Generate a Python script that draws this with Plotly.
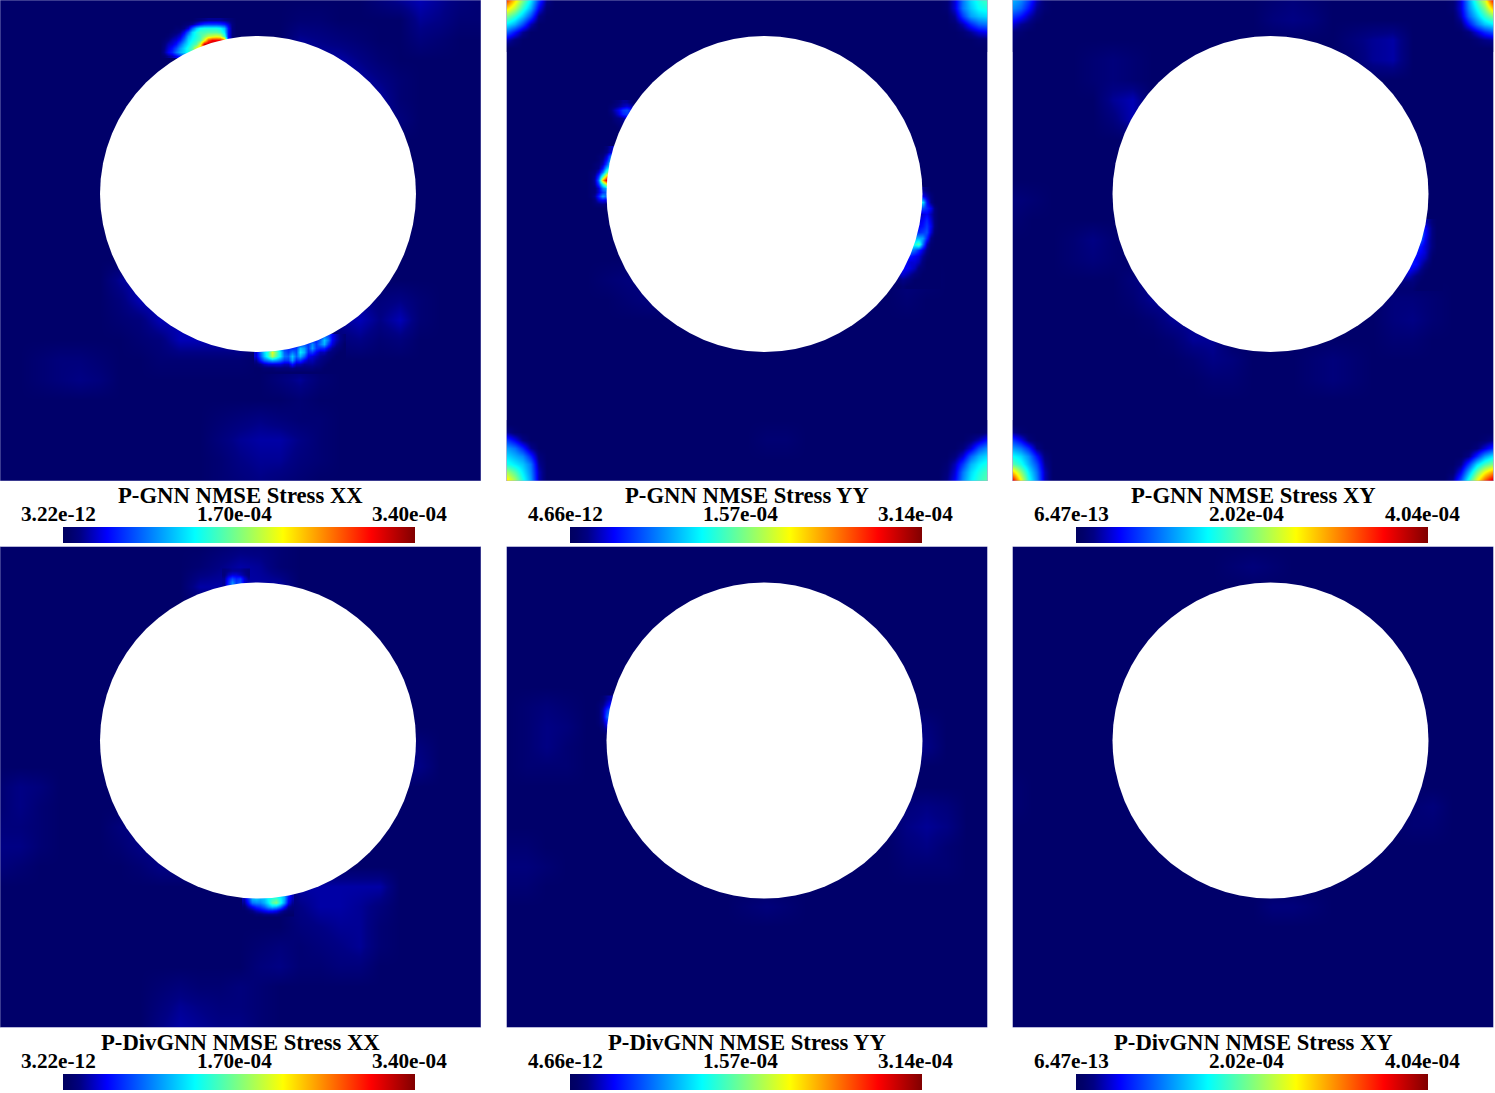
from __future__ import annotations

import numpy as np
import plotly.graph_objects as go


TITLES = [
    "P-GNN NMSE Stress XX", "P-GNN NMSE Stress YY", "P-GNN NMSE Stress XY",
    "P-DivGNN NMSE Stress XX", "P-DivGNN NMSE Stress YY", "P-DivGNN NMSE Stress XY",
]
Z_MAX = [3.40e-04, 3.14e-04, 4.04e-04, 3.40e-04, 3.14e-04, 4.04e-04]
Z_MIN = [3.22e-12, 4.66e-12, 6.47e-13, 3.22e-12, 4.66e-12, 6.47e-13]
LOW_LABELS = ["3.22e-12", "4.66e-12", "6.47e-13", "3.22e-12", "4.66e-12", "6.47e-13"]
MID_LABELS = ["1.70e-04", "1.57e-04", "2.02e-04", "1.70e-04", "1.57e-04", "2.02e-04"]
HIGH_LABELS = ["3.40e-04", "3.14e-04", "4.04e-04", "3.40e-04", "3.14e-04", "4.04e-04"]

# all field values below are percent of the panel's colour range, read by eye
BASE_LEVEL = 2

# broad faint areas on a 20 unit grid: (x0, y0, rows)
COARSE_XX_GNN = [
    (380, 0, [[4, 6, 8, 6, 4, 3], [3, 5, 6, 5, 3, 3], [2, 3, 4, 3, 2, 2]]),
    (220, 420, [[3, 4, 5, 4, 3, 3], [4, 6, 7, 7, 5, 3], [3, 5, 6, 6, 4, 3], [3, 4, 5, 4, 3, 2]]),
    (40, 360, [[3, 4, 4, 3, 2], [3, 4, 5, 4, 2]]),
    (120, 280, [[6, 8, 8, 8, 8, 8, 8], [4, 8, 8, 8, 8, 8, 8], [3, 4, 8, 8, 8, 8, 8], [2, 3, 4, 8, 8, 8, 8], [2, 2, 3, 3, 3, 3, 3]]),
    (300, 20, [[3, 3, 2, 2, 2, 2], [6, 5, 4, 3, 2, 2], [7, 7, 7, 5, 3, 2], [7, 7, 7, 7, 5, 3], [7, 7, 7, 7, 7, 3], [7, 7, 7, 7, 7, 4]]),
    (340, 300, [[6, 6, 4, 5, 3], [6, 8, 5, 8, 3], [4, 5, 3, 4, 2]]),
    (280, 380, [[4, 6, 3], [2, 3, 2]]),
]
COARSE_YY_GNN = [
    (100, 280, [[3, 4, 4, 4, 4], [2, 3, 4, 4, 4]]),
    (240, 440, [[2, 3, 3, 2]]),
    (400, 280, [[4, 3, 2], [3, 2, 2]]),
]
COARSE_XY_GNN = [
    (60, 240, [[3, 5, 3], [3, 4, 3]]),
    (100, 100, [[6, 8], [4, 8]]),
    (80, 60, [[3, 4, 3], [3, 4, 3]]),
    (260, 0, [[3, 4, 3], [4, 5, 4]]),
    (340, 40, [[4, 6, 7], [3, 6, 7]]),
    (120, 280, [[4, 6, 6, 6, 6], [3, 6, 6, 6, 6], [2, 3, 6, 6, 6], [2, 2, 3, 6, 6]]),
    (180, 360, [[3, 5, 4], [2, 3, 3]]),
    (300, 360, [[3, 4, 3], [3, 4, 3]]),
    (380, 300, [[4, 4, 3], [4, 5, 3], [3, 3, 2]]),
    (0, 200, [[4, 3], [3, 2]]),
]
COARSE_XX_DIV = [
    (0, 240, [[3, 5, 4, 2], [3, 5, 3, 2], [4, 4, 3, 2], [5, 5, 3, 2], [4, 3, 2, 2]]),
    (200, 0, [[2, 3, 4, 4, 3], [3, 5, 7, 6, 3], [7, 7, 7, 7, 7]]),
    (300, 340, [[7, 7, 7, 7, 7], [5, 7, 7, 6, 4], [4, 5, 6, 6, 3], [3, 4, 5, 6, 3], [2, 3, 4, 4, 2]]),
    (160, 440, [[3, 4, 3, 3, 4, 3], [4, 6, 5, 4, 4, 3], [5, 7, 6, 5, 5, 3]]),
    (260, 400, [[3, 4, 3], [4, 5, 3]]),
    (400, 200, [[6, 4], [6, 5]]),
    (120, 280, [[4, 5, 5, 5, 5], [3, 5, 5, 5, 5], [2, 3, 5, 5, 5]]),
]
COARSE_YY_DIV = [
    (20, 160, [[3, 4, 3], [3, 5, 4], [3, 5, 3], [3, 3, 3]]),
    (0, 300, [[3, 3, 2], [4, 4, 3], [3, 3, 2]]),
    (400, 260, [[4, 5, 4], [5, 6, 5], [4, 5, 3], [3, 3, 3]]),
    (400, 180, [[6, 4], [7, 5]]),
    (240, 360, [[3, 4, 3]]),
]
COARSE_XY_DIV = [
    (220, 20, [[3, 4, 3]]),
    (260, 360, [[4, 4, 3]]),
    (400, 260, [[3, 4], [3, 3]]),
    (0, 240, [[3, 2], [3, 2]]),
]

# sharper spots and the corners: (x0, y0, dx, dy, rows)
FINE_XX_GNN = [
    (160, 20, 4, 4, [
        [2, 2, 2, 2, 2, 2, 2, 2, 2, 3, 4, 5, 6, 6, 6, 6, 5, 4, 3, 2],
        [2, 2, 2, 2, 2, 2, 3, 4, 6, 10, 14, 17, 18, 18, 18, 17, 15, 10, 4, 2],
        [2, 2, 2, 2, 3, 3, 5, 10, 22, 32, 38, 40, 40, 40, 40, 38, 32, 14, 4, 2],
        [2, 2, 2, 3, 4, 6, 12, 22, 34, 40, 44, 44, 46, 46, 46, 44, 36, 14, 4, 2],
        [2, 2, 3, 5, 7, 10, 18, 30, 36, 40, 44, 50, 56, 58, 60, 58, 44, 14, 4, 2],
        [2, 3, 5, 8, 10, 15, 24, 34, 38, 42, 46, 60, 80, 88, 88, 88, 78, 14, 4, 2],
        [2, 4, 8, 10, 14, 22, 30, 36, 42, 46, 60, 92, 95, 95, 95, 95, 78, 14, 4, 2],
        [2, 5, 10, 14, 20, 28, 34, 40, 46, 60, 70, 80, 80, 80, 80, 80, 60, 14, 4, 2],
        [2, 6, 12, 16, 24, 30, 34, 40, 46, 60, 70, 80, 80, 80, 80, 80, 60, 14, 4, 2],
        [2, 3, 6, 8, 12, 16, 20, 24, 30, 30, 30, 30, 30, 30, 30, 30, 30, 8, 2, 2],
    ]),
    (256, 336, 4, 4, [
        [2, 2, 2, 2, 2, 2, 2, 2, 2, 2, 2, 2, 2, 2, 4, 8, 14, 24, 20, 12, 8, 5, 3],
        [2, 2, 2, 2, 2, 2, 2, 2, 2, 4, 4, 6, 8, 12, 16, 16, 22, 32, 24, 12, 8, 5, 3],
        [2, 2, 2, 4, 6, 8, 8, 8, 8, 10, 12, 16, 20, 18, 26, 18, 24, 30, 18, 10, 6, 4, 2],
        [6, 12, 20, 30, 38, 38, 28, 18, 16, 16, 18, 32, 28, 18, 28, 18, 16, 16, 10, 6, 4, 3, 2],
        [10, 22, 34, 42, 60, 48, 36, 22, 18, 24, 20, 36, 30, 16, 18, 12, 8, 8, 5, 4, 3, 2, 2],
        [10, 20, 32, 42, 55, 45, 36, 24, 22, 32, 22, 30, 22, 12, 10, 8, 6, 5, 4, 3, 2, 2, 2],
        [6, 14, 22, 26, 30, 28, 24, 18, 18, 28, 16, 18, 12, 8, 8, 6, 5, 4, 3, 2, 2, 2, 2],
        [3, 5, 8, 10, 10, 10, 10, 8, 8, 14, 8, 8, 6, 6, 6, 5, 4, 3, 2, 2, 2, 2, 2],
        [2, 2, 3, 3, 3, 4, 4, 4, 4, 5, 4, 4, 4, 4, 4, 3, 3, 2, 2, 2, 2, 2, 2],
        [2, 2, 2, 2, 2, 2, 2, 2, 2, 2, 2, 2, 2, 2, 2, 2, 2, 2, 2, 2, 2, 2, 2],
    ]),
]
FINE_YY_GNN = [
    (0, 0, 8, 8, [
        [82, 66, 50, 36, 18, 5, 2],
        [66, 56, 42, 30, 12, 3, 2],
        [50, 42, 32, 20, 5, 2, 2],
        [36, 30, 20, 8, 2, 2, 2],
        [22, 14, 6, 2, 2, 2, 2],
        [8, 4, 2, 2, 2, 2, 2],
        [2, 2, 2, 2, 2, 2, 2],
    ]),
    (432, 0, 8, 8, [
        [2, 3, 10, 24, 34, 40, 44],
        [2, 3, 10, 24, 32, 38, 40],
        [2, 2, 6, 18, 28, 32, 34],
        [2, 2, 3, 8, 16, 22, 24],
        [2, 2, 2, 3, 6, 10, 12],
        [2, 2, 2, 2, 2, 3, 3],
        [2, 2, 2, 2, 2, 2, 2],
    ]),
    (0, 424, 8, 8, [
        [2, 2, 2, 2, 2, 2, 2],
        [6, 3, 2, 2, 2, 2, 2],
        [18, 12, 5, 2, 2, 2, 2],
        [28, 24, 16, 6, 2, 2, 2],
        [34, 30, 26, 16, 4, 2, 2],
        [40, 36, 32, 24, 6, 2, 2],
        [54, 46, 36, 26, 8, 2, 2],
        [64, 54, 40, 28, 8, 2, 2],
    ]),
    (432, 424, 8, 8, [
        [2, 2, 2, 2, 2, 2, 2],
        [2, 2, 2, 2, 2, 2, 4],
        [2, 2, 2, 2, 4, 8, 14],
        [2, 2, 2, 4, 10, 20, 26],
        [2, 2, 4, 10, 22, 30, 34],
        [2, 3, 8, 18, 30, 36, 40],
        [2, 4, 10, 24, 34, 40, 44],
        [2, 5, 12, 26, 36, 42, 46],
    ]),
    (80, 148, 4, 4, [
        [2, 2, 2, 2, 2, 4, 8, 10],
        [2, 2, 2, 2, 3, 5, 10, 12],
        [2, 2, 2, 3, 4, 10, 24, 30],
        [2, 2, 2, 3, 6, 14, 30, 34],
        [2, 2, 3, 4, 8, 20, 36, 36],
        [2, 2, 3, 5, 14, 32, 40, 40],
        [2, 3, 4, 10, 24, 46, 50, 50],
        [2, 3, 6, 18, 44, 70, 70, 70],
        [2, 3, 7, 24, 70, 92, 92, 92],
        [2, 3, 6, 18, 40, 60, 60, 60],
        [2, 3, 4, 10, 24, 30, 30, 30],
        [2, 3, 4, 10, 18, 22, 22, 22],
        [2, 3, 6, 16, 28, 22, 20, 20],
        [2, 2, 4, 10, 12, 10, 10, 10],
        [2, 2, 3, 4, 5, 4, 4, 4],
        [2, 2, 2, 2, 2, 2, 2, 2],
    ]),
    (100, 102, 4, 4, [
        [2, 2, 3, 4, 6, 6, 4, 2],
        [2, 3, 4, 6, 8, 10, 8, 4],
        [2, 4, 8, 12, 18, 20, 16, 8],
        [2, 3, 6, 10, 16, 18, 18, 18],
        [2, 2, 4, 5, 6, 10, 12, 12],
        [2, 2, 3, 4, 5, 8, 10, 10],
        [2, 2, 2, 3, 4, 8, 10, 10],
        [2, 2, 2, 2, 3, 8, 10, 10],
    ]),
    (392, 190, 4, 6, [
        [4, 4, 4, 4, 4, 4, 6, 4, 2, 2, 2],
        [8, 8, 8, 8, 8, 8, 12, 8, 4, 2, 2],
        [30, 30, 30, 30, 30, 30, 36, 14, 5, 2, 2],
        [14, 14, 14, 14, 14, 14, 20, 16, 12, 4, 2],
        [8, 8, 8, 8, 8, 8, 10, 12, 8, 4, 2],
        [10, 10, 10, 10, 10, 10, 12, 16, 10, 4, 2],
        [12, 12, 12, 12, 12, 12, 14, 18, 12, 4, 2],
        [16, 16, 16, 16, 16, 16, 18, 20, 10, 3, 2],
        [30, 30, 30, 30, 30, 30, 28, 16, 5, 2, 2],
        [40, 40, 40, 40, 40, 46, 24, 8, 3, 2, 2],
        [26, 26, 26, 26, 22, 16, 10, 5, 2, 2, 2],
        [16, 16, 14, 14, 12, 10, 6, 3, 2, 2, 2],
        [12, 12, 12, 10, 10, 8, 4, 2, 2, 2, 2],
        [10, 12, 12, 10, 8, 4, 3, 2, 2, 2, 2],
        [8, 10, 8, 6, 4, 3, 2, 2, 2, 2, 2],
        [4, 5, 4, 3, 2, 2, 2, 2, 2, 2, 2],
        [2, 3, 2, 2, 2, 2, 2, 2, 2, 2, 2],
    ]),
]
FINE_XY_GNN = [
    (0, 0, 8, 8, [
        [30, 26, 18, 8, 3, 2, 2],
        [26, 22, 14, 6, 3, 2, 2],
        [18, 14, 8, 4, 2, 2, 2],
        [10, 6, 4, 2, 2, 2, 2],
        [4, 3, 2, 2, 2, 2, 2],
        [3, 2, 2, 2, 2, 2, 2],
        [2, 2, 2, 2, 2, 2, 2],
    ]),
    (432, 0, 8, 8, [
        [2, 3, 10, 28, 44, 58, 85],
        [2, 3, 10, 26, 38, 50, 68],
        [2, 2, 8, 22, 32, 42, 50],
        [2, 2, 4, 14, 24, 32, 36],
        [2, 2, 2, 4, 10, 16, 20],
        [2, 2, 2, 2, 3, 5, 6],
        [2, 2, 2, 2, 2, 2, 2],
    ]),
    (0, 424, 8, 8, [
        [2, 2, 2, 2, 2, 2, 2],
        [6, 3, 2, 2, 2, 2, 2],
        [18, 12, 4, 2, 2, 2, 2],
        [28, 24, 16, 5, 2, 2, 2],
        [38, 34, 26, 14, 4, 2, 2],
        [46, 40, 30, 20, 6, 2, 2],
        [68, 52, 36, 24, 8, 2, 2],
        [88, 62, 40, 26, 8, 2, 2],
    ]),
    (432, 424, 8, 8, [
        [2, 2, 2, 2, 2, 2, 2],
        [2, 2, 2, 2, 2, 2, 2],
        [2, 2, 2, 2, 2, 3, 5],
        [2, 2, 2, 2, 4, 10, 16],
        [2, 2, 2, 5, 16, 28, 35],
        [2, 2, 5, 18, 34, 44, 50],
        [2, 3, 12, 30, 48, 62, 72],
        [2, 6, 20, 40, 60, 78, 92],
    ]),
    (388, 222, 4, 6, [
        [6, 6, 6, 6, 6, 6, 8, 6, 3, 2, 2],
        [14, 14, 14, 14, 14, 14, 14, 8, 4, 2, 2],
        [24, 24, 24, 24, 24, 26, 14, 8, 4, 2, 2],
        [28, 28, 28, 28, 28, 20, 12, 7, 4, 2, 2],
        [20, 20, 20, 20, 18, 14, 10, 7, 4, 2, 2],
        [16, 16, 16, 16, 14, 12, 10, 6, 3, 2, 2],
        [14, 14, 14, 14, 12, 10, 8, 5, 2, 2, 2],
        [14, 14, 14, 14, 12, 8, 5, 3, 2, 2, 2],
        [12, 12, 12, 10, 8, 5, 3, 2, 2, 2, 2],
        [8, 8, 8, 6, 4, 3, 2, 2, 2, 2, 2],
        [4, 4, 4, 4, 3, 2, 2, 2, 2, 2, 2],
        [3, 3, 3, 3, 2, 2, 2, 2, 2, 2, 2],
    ]),
]
FINE_XX_DIV = [
    (244, 348, 4, 4, [
        [4, 8, 14, 20, 24, 26, 28, 34, 34, 34, 30, 16, 8],
        [8, 18, 30, 32, 30, 32, 38, 42, 44, 38, 30, 14, 8],
        [6, 14, 24, 26, 26, 30, 36, 46, 50, 40, 28, 12, 6],
        [3, 8, 12, 16, 18, 22, 28, 32, 30, 24, 14, 6, 4],
        [2, 3, 5, 8, 10, 12, 14, 14, 12, 8, 5, 3, 3],
        [2, 2, 2, 3, 3, 4, 4, 4, 4, 3, 2, 2, 2],
    ]),
    (224, 24, 4, 4, [
        [4, 5, 6, 6, 6, 5, 4],
        [4, 8, 10, 10, 8, 6, 4],
        [6, 14, 20, 16, 18, 10, 6],
        [6, 16, 26, 18, 20, 10, 8],
        [6, 16, 26, 18, 20, 10, 8],
    ]),
]
FINE_YY_DIV = [
    (88, 152, 4, 6, [
        [2, 2, 3, 6, 8, 8],
        [2, 3, 5, 10, 14, 14],
        [2, 3, 8, 18, 24, 24],
        [2, 3, 8, 22, 26, 26],
        [2, 3, 6, 14, 18, 18],
        [2, 2, 4, 7, 8, 8],
        [2, 2, 2, 3, 4, 4],
    ]),
]
FINE_XY_DIV = []

COARSE = [COARSE_XX_GNN, COARSE_YY_GNN, COARSE_XY_GNN, COARSE_XX_DIV, COARSE_YY_DIV, COARSE_XY_DIV]
FINE = [FINE_XX_GNN, FINE_YY_GNN, FINE_XY_GNN, FINE_XX_DIV, FINE_YY_DIV, FINE_XY_DIV]

JET = [
    [0.0, "#000060"], [0.02, "#00006a"], [0.05, "#000084"], [0.125, "#0000ff"],
    [0.375, "#00ffff"], [0.625, "#ffff00"], [0.875, "#ff0000"], [1.0, "#800000"],
]
FONT = dict(family="Liberation Serif", color="#000000", weight=700)
WIDTH, HEIGHT = 1495, 1093
PANEL_LEFT = [0, 506.5, 1012.5]
PANEL_TOP = [0, 546.5]
PANEL_SIZE = 481
BAR_LEFT = [63, 569.5, 1075.5]
BAR_LEN = 351.5
BAR_BOTTOM = [543, 1090]
TITLE_X = [240, 747, 1253]


def coarse_field(patches, vmax):
    z = np.full((25, 25), float(BASE_LEVEL))
    for x0, y0, rows in patches:
        for i, row in enumerate(rows):
            for j, val in enumerate(row):
                z[y0 // 20 + i, x0 // 20 + j] = val
    return z / 100 * vmax


def paper_text(fig, x, y, text, size):
    fig.add_annotation(
        x=x / WIDTH, y=1 - y / HEIGHT, xref="paper", yref="paper", text=text,
        showarrow=False, xanchor="center", yanchor="middle", font=dict(size=size, **FONT),
    )


fig = go.Figure()
for n in range(6):
    col, row = n % 3, n // 3
    axis = "" if n == 0 else str(n + 1)
    left, top = PANEL_LEFT[col], PANEL_TOP[row]
    vmax = Z_MAX[n]
    fig.add_trace(go.Heatmap(
        z=coarse_field(COARSE[n], vmax), x0=0, dx=20, y0=0, dy=20, zsmooth="best",
        coloraxis=f"coloraxis{n + 1}", xaxis=f"x{axis}", yaxis=f"y{axis}",
    ))
    for x0, y0, dx, dy, rows in FINE[n]:
        fig.add_trace(go.Heatmap(
            z=[[v / 100 * vmax for v in r] for r in rows], x0=x0, dx=dx, y0=y0, dy=dy, zsmooth="best",
            coloraxis=f"coloraxis{n + 1}", xaxis=f"x{axis}", yaxis=f"y{axis}",
        ))
    fig.update_layout({
        f"xaxis{axis}": dict(domain=[left / WIDTH, (left + PANEL_SIZE) / WIDTH], range=[0, 481], visible=False),
        f"yaxis{axis}": dict(domain=[1 - (top + PANEL_SIZE) / HEIGHT, 1 - top / HEIGHT], range=[481, 0], visible=False),
        f"coloraxis{n + 1}": dict(
            cmin=Z_MIN[n], cmax=vmax, colorscale=JET,
            colorbar=dict(
                orientation="h", x=BAR_LEFT[col] / WIDTH, xanchor="left", y=1 - BAR_BOTTOM[row] / HEIGHT, yanchor="bottom",
                len=BAR_LEN, lenmode="pixels", thickness=16, thicknessmode="pixels",
                xpad=0, ypad=0, outlinewidth=0, ticks="", showticklabels=False,
            ),
        ),
    })
    fig.add_shape(
        type="circle", xref=f"x{axis}", yref=f"y{axis}", x0=100, x1=416, y0=36, y1=352,
        fillcolor="white", line_width=0, layer="above",
    )
    fig.add_shape(
        type="rect", xref=f"x{axis}", yref=f"y{axis}", x0=0, x1=481, y0=0, y1=481,
        line=dict(color="rgba(170,170,215,0.7)", width=1), layer="above",
    )
    title_y = 496 if row == 0 else 1042
    label_y = 514 if row == 0 else 1060.5
    bar = BAR_LEFT[col]
    paper_text(fig, TITLE_X[col], title_y, TITLES[n], 22.7)
    paper_text(fig, bar - 4.5, label_y, LOW_LABELS[n], 21.2)
    paper_text(fig, bar + 171, label_y, MID_LABELS[n], 21.2)
    paper_text(fig, bar + 346.5, label_y, HIGH_LABELS[n], 21.2)

fig.update_layout(
    width=WIDTH, height=HEIGHT, margin=dict(l=0, r=0, t=0, b=0, autoexpand=False),
    paper_bgcolor="white", plot_bgcolor="white",
)
fig.write_html(
    "out.html", config=dict(displayModeBar=False),
    post_script="document.body.style.margin='0';document.body.style.overflow='hidden';",
)
